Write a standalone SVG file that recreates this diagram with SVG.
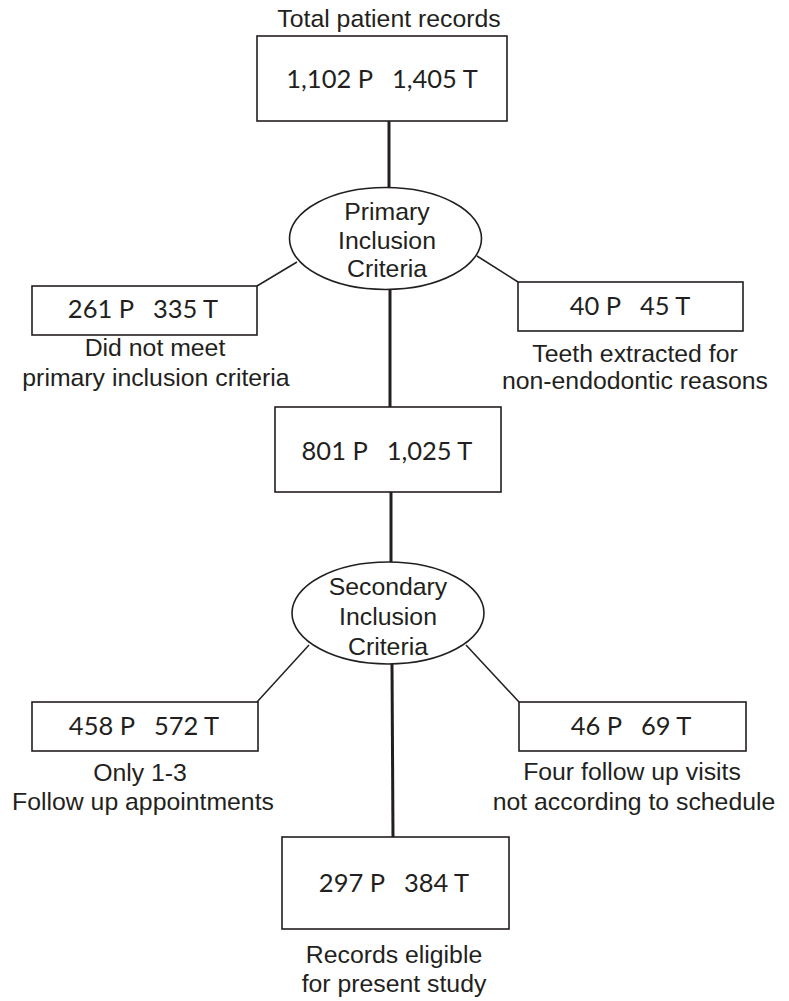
<svg xmlns="http://www.w3.org/2000/svg" width="789" height="1001" viewBox="0 0 789 1001">
<style>
.bg{fill:#fff}
.box{fill:#fff;stroke:#231f20;stroke-width:1.6}
.num{font-family:Lato,"Liberation Sans",sans-serif;font-size:25.5px;fill:#231f20;text-anchor:middle;white-space:pre}
.lbl{font-family:"Liberation Sans",Arial,sans-serif;font-size:24.8px;fill:#231f20;text-anchor:middle}
.thick{stroke:#231f20;stroke-width:3;fill:none}
.thin{stroke:#231f20;stroke-width:1.5;fill:none}
</style>
<rect class="bg" x="0" y="0" width="789" height="1001"/>
<g id="connectors">
<line class="thick" x1="389" y1="120" x2="389" y2="188"/>
<line class="thick" x1="390" y1="289" x2="390" y2="408"/>
<line class="thick" x1="391" y1="492" x2="391" y2="563"/>
<line class="thick" x1="392" y1="664" x2="393" y2="837"/>
<line class="thin" x1="297" y1="262" x2="257" y2="286"/>
<line class="thin" x1="477" y1="256" x2="518" y2="282"/>
<line class="thin" x1="309" y1="645" x2="257" y2="702"/>
<line class="thin" x1="466" y1="645" x2="519" y2="702"/>
</g>
<g id="total">
<text class="lbl" x="389" y="27">Total patient records</text>
<rect class="box" x="257" y="36" width="250" height="85"/>
<text class="num" x="382" y="88">1,102 P   1,405 T</text>
</g>
<g id="primary">
<ellipse class="box" cx="385.5" cy="238.5" rx="96" ry="51"/>
<text class="lbl" x="387" y="220">Primary</text>
<text class="lbl" x="387" y="249">Inclusion</text>
<text class="lbl" x="387" y="277">Criteria</text>
</g>
<g id="excluded1">
<rect class="box" x="32" y="286" width="225" height="49"/>
<text class="num" x="143" y="318">261 P   335 T</text>
<text class="lbl" x="155" y="356">Did not meet</text>
<text class="lbl" x="156" y="386">primary inclusion criteria</text>
</g>
<g id="extracted">
<rect class="box" x="518" y="282" width="225" height="49"/>
<text class="num" x="630" y="315">40 P   45 T</text>
<text class="lbl" x="635" y="362">Teeth extracted for</text>
<text class="lbl" x="635" y="389">non-endodontic reasons</text>
</g>
<g id="middle">
<rect class="box" x="275" y="407" width="226" height="85"/>
<text class="num" x="387" y="460">801 P   1,025 T</text>
</g>
<g id="secondary">
<ellipse class="box" cx="388" cy="613" rx="96" ry="51"/>
<text class="lbl" x="388" y="595">Secondary</text>
<text class="lbl" x="388" y="625">Inclusion</text>
<text class="lbl" x="388" y="655">Criteria</text>
</g>
<g id="few-visits">
<rect class="box" x="32" y="702" width="226" height="49"/>
<text class="num" x="144" y="735">458 P   572 T</text>
<text class="lbl" x="140" y="781">Only 1-3</text>
<text class="lbl" x="143" y="810">Follow up appointments</text>
</g>
<g id="off-schedule">
<rect class="box" x="519" y="702" width="227" height="49"/>
<text class="num" x="631" y="735">46 P   69 T</text>
<text class="lbl" x="632" y="780">Four follow up visits</text>
<text class="lbl" x="634" y="810">not according to schedule</text>
</g>
<g id="eligible">
<rect class="box" x="282" y="837" width="227" height="92"/>
<text class="num" x="394" y="892">297 P   384 T</text>
<text class="lbl" x="394" y="963">Records eligible</text>
<text class="lbl" x="394" y="992">for present study</text>
</g>
</svg>
